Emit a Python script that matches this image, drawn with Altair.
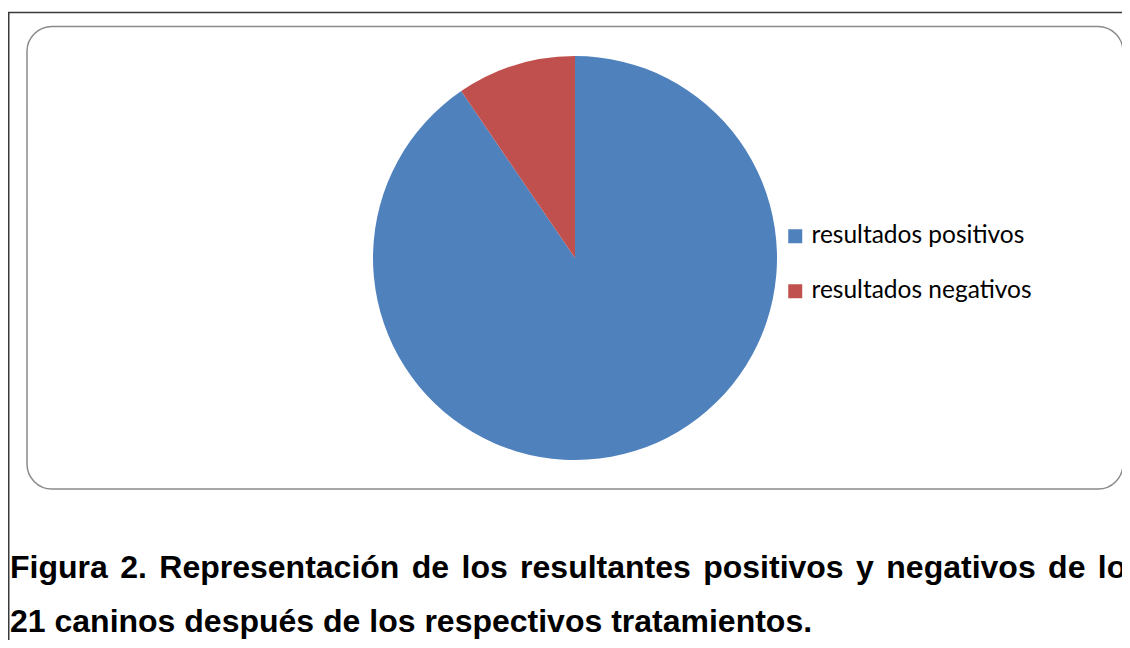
import altair as alt
import pandas as pd

# ---- data ----
categories = ["resultados positivos", "resultados negativos"]
counts = [19, 2]
colors = ["#4F81BD", "#C0504D"]

caption_line1_words = ["Figura", "2.", "Representación", "de", "los", "resultantes",
                       "positivos", "y", "negativos", "de", "los"]
caption_line2 = "21 caninos después de los respectivos tratamientos."

# layout (pixel positions of the justified words on caption line 1)
line1_x = [2, 112.2, 151.3, 403.7, 453.5, 512.1, 695.2, 848.1, 878.3, 1040.1, 1089.8]

W, H = 1114, 632
CAP_FONT = "Liberation Sans"
CAP_SIZE = 32

df = pd.DataFrame({"categoria": categories, "n": counts, "orden": [0, 1]})
one = pd.DataFrame({"k": [0]})

frame_box = alt.Chart(one).mark_rect(
    cornerRadius=25, fill="white", fillOpacity=0, stroke="#8a8a8a", strokeWidth=1.5
).encode(x=alt.value(19), x2=alt.value(1115), y=alt.value(18.5), y2=alt.value(481))

top_rule = alt.Chart(one).mark_rule(color="#3a3a3a", strokeWidth=1.5).encode(
    x=alt.value(0), x2=alt.value(W), y=alt.value(4.5)
)
left_rule = alt.Chart(one).mark_rule(color="#3a3a3a", strokeWidth=1.5).encode(
    x=alt.value(0.75), y=alt.value(4.5), y2=alt.value(H)
)

pie = alt.Chart(df).mark_arc(radius=202, strokeWidth=0).encode(
    theta=alt.Theta("n:Q", stack=True),
    order=alt.Order("orden:Q"),
    color=alt.Color(
        "categoria:N",
        scale=alt.Scale(domain=categories, range=colors),
        legend=alt.Legend(
            title=None, orient="none", legendX=775, legendY=216, padding=0,
            symbolType="square", symbolSize=196, symbolStrokeWidth=0,
            labelFont="Lato", labelFontSize=24.5, labelColor="black",
            labelOffset=4, rowPadding=30, labelLimit=400,
        ),
    ),
    x=alt.value(567),
    y=alt.value(250),
)

words_df = pd.DataFrame({"w": caption_line1_words, "x": line1_x})
cap1 = alt.Chart(words_df).mark_text(
    font=CAP_FONT, fontSize=CAP_SIZE, fontWeight="bold", color="black",
    align="left", baseline="alphabetic"
).encode(x=alt.X("x:Q", scale=None), y=alt.value(570), text="w:N")

cap2 = alt.Chart(one).mark_text(
    font=CAP_FONT, fontSize=CAP_SIZE, fontWeight="bold", color="black",
    align="left", baseline="alphabetic", text=caption_line2
).encode(x=alt.value(2), y=alt.value(624))

chart = alt.layer(frame_box, top_rule, left_rule, pie, cap1, cap2).properties(
    width=W, height=H, padding=0, autosize=alt.AutoSizeParams(type="none"),
    background="white",
).configure_view(stroke=None)

chart.save("out.html", embed_options={"renderer": "svg", "actions": False})
